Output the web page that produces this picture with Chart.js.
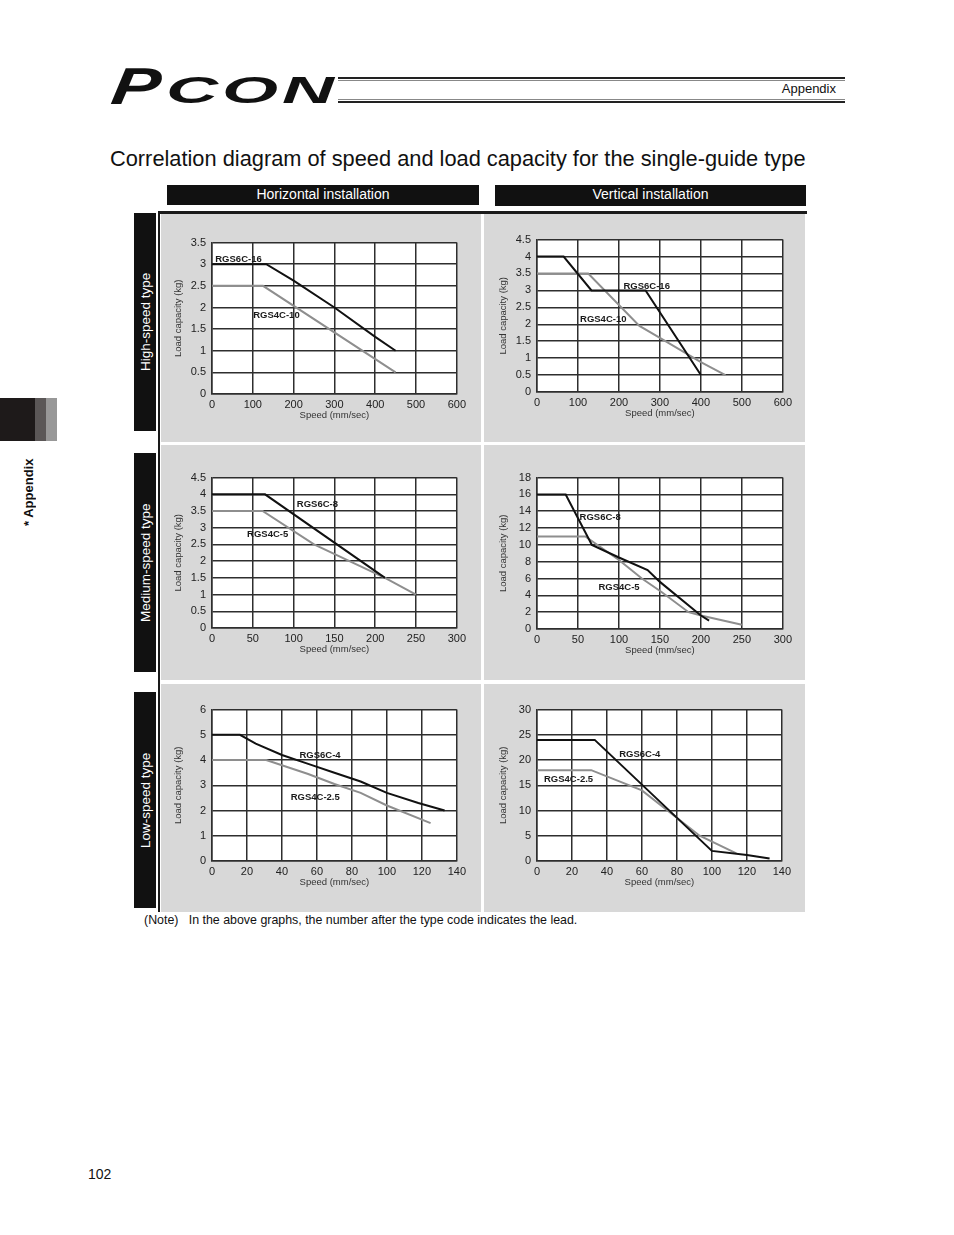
<!DOCTYPE html>
<html>
<head>
<meta charset="utf-8">
<script src="https://cdn.jsdelivr.net/npm/chart.js@4.4.1/dist/chart.umd.min.js"></script>
<style>
  body { margin: 0; background: #fff; }
  #page { position: relative; width: 954px; height: 1235px; overflow: hidden; background: #fff;
          font-family: "Liberation Sans", Arial, sans-serif; color: #111; }
  .abs { position: absolute; }
  .rule { position: absolute; left: 338px; width: 507px; }
  .bar { position: absolute; background: #111; color: #fff; font-size: 14px; text-align: center; }
  .side { position: absolute; left: 134px; width: 22px; background: #111; color: #fff; font-size: 13.5px;
          writing-mode: vertical-rl; transform: rotate(180deg); display: flex; align-items: center; justify-content: center; }
  .cell { position: absolute; background: #d8d8d8; }
</style>
</head>
<body>
<div id="page">
  <!-- header logo -->
  <div class="abs" style="left:116px;top:60px;font:italic 900 52px/1 'Liberation Sans',Arial,sans-serif;transform:scaleX(1.4) skewX(-6deg);transform-origin:left top;">P</div>
  <div class="abs" style="left:166px;top:73px;font:italic bold 36px/1 'Liberation Sans',Arial,sans-serif;letter-spacing:2px;transform:scaleX(2.0);transform-origin:left top;">CON</div>
  <div class="rule" style="top:77px;height:2px;background:#222;"></div>
  <div class="rule" style="top:80px;height:1px;background:#888;"></div>
  <div class="rule" style="top:99px;height:1px;background:#888;"></div>
  <div class="rule" style="top:101px;height:2px;background:#222;"></div>
  <div class="abs" style="left:750px;width:86px;top:81px;font-size:13px;text-align:right;">Appendix</div>

  <div class="abs" style="left:110px;top:146px;font-size:21.8px;white-space:nowrap;">Correlation diagram of speed and load capacity for the single-guide type</div>

  <div class="bar" style="left:167px;top:185px;width:312px;height:20px;line-height:18px;">Horizontal installation</div>
  <div class="bar" style="left:495px;top:185px;width:311px;height:21px;line-height:18px;">Vertical installation</div>

  <!-- left tab -->
  <div class="abs" style="left:0;top:398px;width:35px;height:43px;background:#1e1a1a;"></div>
  <div class="abs" style="left:35px;top:398px;width:11px;height:43px;background:#5b5757;"></div>
  <div class="abs" style="left:46px;top:398px;width:11px;height:43px;background:#989898;"></div>
  <div class="abs" style="left:19px;top:452px;width:18px;height:80px;font-weight:bold;font-size:13px;writing-mode:vertical-rl;transform:rotate(180deg);display:flex;align-items:center;justify-content:center;">* Appendix</div>

  <!-- frame -->
  <div class="abs" style="left:158px;top:211px;width:649px;height:3px;background:#1a1a1a;"></div>
  <div class="abs" style="left:158px;top:211px;width:2px;height:701px;background:#1a1a1a;"></div>
  <div class="cell" style="left:161px;top:214px;width:320px;height:228px;"></div>
  <div class="cell" style="left:484px;top:214px;width:321px;height:228px;"></div>
  <div class="cell" style="left:161px;top:445px;width:320px;height:235px;"></div>
  <div class="cell" style="left:484px;top:445px;width:321px;height:235px;"></div>
  <div class="cell" style="left:161px;top:684px;width:320px;height:228px;"></div>
  <div class="cell" style="left:484px;top:684px;width:321px;height:228px;"></div>

  <div class="side" style="top:213px;height:218px;">High-speed type</div>
  <div class="side" style="top:453px;height:219px;">Medium-speed type</div>
  <div class="side" style="top:692px;height:216px;">Low-speed type</div>

  <div class="abs" style="left:144px;top:913px;font-size:12.4px;white-space:pre;">(Note)   In the above graphs, the number after the type code indicates the lead.</div>
  <div class="abs" style="left:88px;top:1166px;font-size:14px;">102</div>
</div>

<script>
// ---- data (speed in mm/sec, load capacity in kg) ----
const speedTicksHigh = [0, 100, 200, 300, 400, 500, 600];
const speedTicksMid = [0, 50, 100, 150, 200, 250, 300];
const speedTicksLow = [0, 20, 40, 60, 80, 100, 120, 140];

const loadTicksHorizHigh = [0, 0.5, 1, 1.5, 2, 2.5, 3, 3.5];
const loadTicksTo45 = [0, 0.5, 1, 1.5, 2, 2.5, 3, 3.5, 4, 4.5];
const loadTicksVertMid = [0, 2, 4, 6, 8, 10, 12, 14, 16, 18];
const loadTicksHorizLow = [0, 1, 2, 3, 4, 5, 6];
const loadTicksVertLow = [0, 5, 10, 15, 20, 25, 30];

const namesHigh = ['RGS6C-16', 'RGS4C-10'];
const namesMid = ['RGS6C-8', 'RGS4C-5'];
const namesLow = ['RGS6C-4', 'RGS4C-2.5'];

// horizontal installation
const horizHigh6C = [[0, 3], [133, 3], [200, 2.62], [300, 2], [400, 1.32], [450, 1]];
const horizHigh4C = [[0, 2.5], [125, 2.5], [450, 0.5]];
const horizMid6C = [[0, 4], [65, 4], [212, 1.5]];
const horizMid4C = [[0, 3.5], [62, 3.5], [125, 2.5], [212, 1.5], [250, 1]];
const horizLow6C = [[0, 5], [16, 5], [25, 4.65], [40, 4.2], [55, 3.85], [70, 3.5], [85, 3.15], [100, 2.7], [118, 2.3], [133, 2]];
const horizLow4C = [[0, 4], [31, 4], [55, 3.45], [70, 3.05], [85, 2.7], [100, 2.2], [125, 1.5]];

// vertical installation
const vertHigh6C = [[0, 4], [65, 4], [133, 3], [265, 3], [400, 0.5]];
const vertHigh4C = [[0, 3.5], [125, 3.5], [250, 1.95], [300, 1.6], [400, 0.88], [460, 0.5]];
const vertMid6C = [[0, 16], [35, 16], [67, 10], [100, 8.5], [135, 7], [150, 5.6], [200, 1.6], [210, 1]];
const vertMid4C = [[0, 11], [59, 11], [100, 8.2], [128, 6], [152, 4.4], [185, 2], [200, 1.6], [250, 0.5]];
const vertLow6C = [[0, 24], [33, 24], [100, 2], [120, 1.2], [133, 0.5]];
const vertLow4C = [[0, 18], [31, 18], [60, 14], [93, 5], [114, 1.5]];

// ---- drawing ----
const FONT = "'Liberation Sans', Arial, sans-serif";
const GRID = '#2e2e2e';
const AXIS_W = 50, AXIS_H = 28, PAD = 12;

const plotBg = {
    id: 'plotBg',
    beforeDraw(chart) {
        const { ctx, chartArea: a } = chart;
        ctx.save();
        ctx.fillStyle = '#fff';
        ctx.fillRect(a.left, a.top, a.width, a.height);
        ctx.restore();
    }
};

// series names written next to the curves, anchored in data units
const seriesTags = {
    id: 'seriesTags',
    afterDatasetsDraw(chart, args, opts) {
        const { ctx, scales } = chart;
        ctx.save();
        ctx.font = 'bold 9.5px ' + FONT;
        ctx.fillStyle = '#1a1a1a';
        ctx.textAlign = 'left';
        ctx.textBaseline = 'middle';
        (opts.tags || []).forEach(t => {
            ctx.fillText(t.text, scales.x.getPixelForValue(t.x), scales.y.getPixelForValue(t.y));
        });
        ctx.restore();
    }
};

function drawPanelChart(cfg) {
    const [L, T, R, B] = cfg.area;
    const w = R - L + AXIS_W + PAD;
    const h = B - T + PAD + AXIS_H;
    const canvas = document.createElement('canvas');
    canvas.width = w;
    canvas.height = h;
    canvas.style.cssText = `position:absolute;left:${L - AXIS_W}px;top:${T - PAD}px;width:${w}px;height:${h}px;`;
    document.getElementById('page').appendChild(canvas);

    const tickFont = { family: FONT, size: 11 };
    const titleFont = { family: FONT, size: 9.5 };

    new Chart(canvas, {
        type: 'line',
        data: {
            datasets: cfg.series.map((pts, i) => ({
                label: cfg.names[i],
                data: pts.map(p => ({ x: p[0], y: p[1] })),
                borderColor: i === 0 ? '#111' : '#8e8e8e',
                borderWidth: 2,
                pointRadius: 0,
                tension: 0,
                fill: false
            }))
        },
        options: {
            responsive: false,
            animation: false,
            layout: { padding: { top: PAD, right: PAD, left: 0, bottom: 0 } },
            plugins: {
                legend: { display: false },
                tooltip: { enabled: false },
                seriesTags: { tags: cfg.tags }
            },
            scales: {
                x: {
                    type: 'linear',
                    min: cfg.xTicks[0],
                    max: cfg.xTicks[cfg.xTicks.length - 1],
                    afterBuildTicks: s => { s.ticks = cfg.xTicks.map(v => ({ value: v })); },
                    afterFit: s => { s.height = AXIS_H; },
                    grid: { color: GRID, lineWidth: 1.5, drawTicks: false },
                    border: { color: GRID, width: 1.5 },
                    ticks: { padding: 4, font: tickFont, color: '#222', maxRotation: 0, callback: v => String(v) },
                    title: { display: true, text: 'Speed (mm/sec)', font: titleFont, color: '#333', padding: { top: 0, bottom: 1 } }
                },
                y: {
                    type: 'linear',
                    min: cfg.yTicks[0],
                    max: cfg.yTicks[cfg.yTicks.length - 1],
                    afterBuildTicks: s => { s.ticks = cfg.yTicks.map(v => ({ value: v })); },
                    afterFit: s => { s.width = AXIS_W; },
                    grid: { color: GRID, lineWidth: 1.5, drawTicks: false },
                    border: { color: GRID, width: 1.5 },
                    ticks: { padding: 6, font: tickFont, color: '#222', callback: v => String(v) },
                    title: { display: true, text: 'Load capacity (kg)', font: titleFont, color: '#333', padding: { top: 11, bottom: 0 } }
                }
            }
        },
        plugins: [plotBg, seriesTags]
    });
}

// Horizontal, high-speed
drawPanelChart({
    area: [212, 242, 458, 394],
    xTicks: speedTicksHigh, yTicks: loadTicksHorizHigh,
    series: [horizHigh6C, horizHigh4C], names: namesHigh,
    tags: [{ text: namesHigh[0], x: 8, y: 3.12 }, { text: namesHigh[1], x: 101, y: 1.82 }]
});
// Vertical, high-speed
drawPanelChart({
    area: [537, 239, 784, 392],
    xTicks: speedTicksHigh, yTicks: loadTicksTo45,
    series: [vertHigh6C, vertHigh4C], names: namesHigh,
    tags: [{ text: namesHigh[0], x: 211, y: 3.13 }, { text: namesHigh[1], x: 105, y: 2.14 }]
});
// Horizontal, medium-speed
drawPanelChart({
    area: [212, 477, 458, 628],
    xTicks: speedTicksMid, yTicks: loadTicksTo45,
    series: [horizMid6C, horizMid4C], names: namesMid,
    tags: [{ text: namesMid[0], x: 104, y: 3.71 }, { text: namesMid[1], x: 43, y: 2.8 }]
});
// Vertical, medium-speed
drawPanelChart({
    area: [537, 477, 784, 629],
    xTicks: speedTicksMid, yTicks: loadTicksVertMid,
    series: [vertMid6C, vertMid4C], names: namesMid,
    tags: [{ text: namesMid[0], x: 52, y: 13.25 }, { text: namesMid[1], x: 75, y: 4.9 }]
});
// Horizontal, low-speed
drawPanelChart({
    area: [212, 709, 458, 861],
    xTicks: speedTicksLow, yTicks: loadTicksHorizLow,
    series: [horizLow6C, horizLow4C], names: namesLow,
    tags: [{ text: namesLow[0], x: 50, y: 4.19 }, { text: namesLow[1], x: 45, y: 2.54 }]
});
// Vertical, low-speed
drawPanelChart({
    area: [537, 709, 783, 861],
    xTicks: speedTicksLow, yTicks: loadTicksVertLow,
    series: [vertLow6C, vertLow4C], names: namesLow,
    tags: [{ text: namesLow[0], x: 47, y: 21.1 }, { text: namesLow[1], x: 4, y: 16.1 }]
});
</script>
</body>
</html>
